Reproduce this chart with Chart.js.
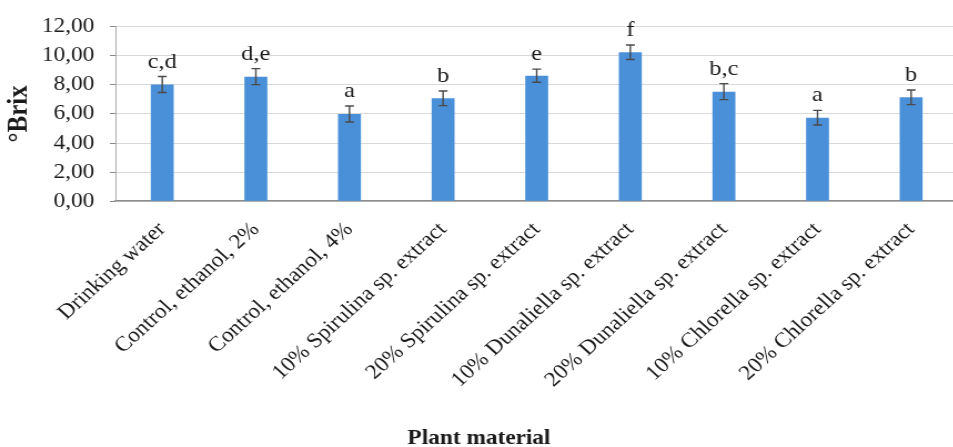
<!DOCTYPE html>
<html>
<head>
<meta charset="utf-8">
<script src="https://cdn.jsdelivr.net/npm/chart.js@4.4.1/dist/chart.umd.min.js"></script>
<style>
  html, body { margin: 0; padding: 0; background: #ffffff; overflow: hidden; width: 953px; height: 447px; }
  #wrap { width: 864px; height: 447px; transform: scaleX(1.11); transform-origin: 0 0; }
  canvas { display: block; }
</style>
</head>
<body>
<div id="wrap"><canvas id="c" width="864" height="447"></canvas></div>
<script>
const categories = [
  'Drinking water',
  'Control, ethanol, 2%',
  'Control, ethanol, 4%',
  '10% Spirulina sp. extract',
  '20% Spirulina sp. extract',
  '10% Dunaliella sp. extract',
  '20% Dunaliella sp. extract',
  '10% Chlorella sp. extract',
  '20% Chlorella sp. extract'
];
const brixValues = [8.02, 8.56, 5.99, 7.07, 8.63, 10.24, 7.53, 5.74, 7.14];
const brixErrors = [0.55, 0.55, 0.55, 0.50, 0.45, 0.50, 0.55, 0.50, 0.50];
const groupLetters = ['c,d', 'd,e', 'a', 'b', 'e', 'f', 'b,c', 'a', 'b'];
const yTicks = [0, 2, 4, 6, 8, 10, 12];

const SERIF = '"Liberation Serif", "Times New Roman", serif';
const TEXT = '#1a1a1a';

const errorAndLetters = {
  id: 'errorAndLetters',
  afterDatasetsDraw(chart) {
    const ctx = chart.ctx;
    const meta = chart.getDatasetMeta(0);
    const y = chart.scales.y;
    ctx.save();
    meta.data.forEach((bar, i) => {
      const v = brixValues[i], e = brixErrors[i];
      const yt = y.getPixelForValue(v + e);
      const yb = y.getPixelForValue(v - e);
      const x = bar.x;
      ctx.strokeStyle = '#4a4a4a';
      ctx.lineWidth = 1.4;
      ctx.beginPath();
      ctx.moveTo(x, yt); ctx.lineTo(x, yb);
      ctx.moveTo(x - 4, yt); ctx.lineTo(x + 4, yt);
      ctx.moveTo(x - 4, yb); ctx.lineTo(x + 4, yb);
      ctx.stroke();
      ctx.fillStyle = TEXT;
      ctx.font = '22px ' + SERIF;
      ctx.textAlign = 'center';
      ctx.textBaseline = 'alphabetic';
      ctx.fillText(groupLetters[i], x, yt - 9);
    });
    ctx.restore();
  }
};

new Chart(document.getElementById('c'), {
  type: 'bar',
  data: {
    labels: categories,
    datasets: [{
      data: brixValues,
      backgroundColor: '#4a90d9',
      borderWidth: 0,
      categoryPercentage: 1.0,
      barPercentage: 0.245
    }]
  },
  options: {
    responsive: false,
    animation: false,
    events: [],
    layout: { padding: { top: 24, right: 1, left: 0, bottom: 0 } },
    plugins: {
      legend: { display: false },
      tooltip: { enabled: false },
      title: {
        display: true,
        position: 'bottom',
        text: 'Plant material',
        color: TEXT,
        font: { family: SERIF, size: 21, weight: 'bold', lineHeight: 0.8 },
        padding: { top: 0, bottom: 0 }
      }
    },
    scales: {
      x: {
        grid: { display: false },
        border: { display: true, color: '#8c8c8c', width: 1.5 },
        ticks: {
          color: TEXT,
          font: { family: SERIF, size: 21 },
          minRotation: 45,
          maxRotation: 45,
          autoSkip: false,
          padding: 8
        },
        afterFit(scale) { scale.height = 229; }
      },
      y: {
        min: 0,
        max: 12,
        afterBuildTicks(scale) { scale.ticks = yTicks.map(v => ({ value: v })); },
        grid: { color: '#d9d9d9', lineWidth: 1, tickColor: '#8c8c8c', tickLength: 5 },
        border: { display: true, color: '#a6a6a6', width: 1 },
        ticks: {
          color: TEXT,
          font: { family: SERIF, size: 21 },
          padding: 14,
          callback: v => v.toFixed(2).replace('.', ',')
        },
        title: {
          display: true,
          text: '°Brix',
          color: TEXT,
          font: { family: SERIF, size: 25, weight: 'bold', lineHeight: 1.2 },
          padding: { top: 3, bottom: 0 }
        },
        afterFit(scale) { scale.width = 104; }
      }
    }
  },
  plugins: [errorAndLetters]
});
</script>
</body>
</html>
